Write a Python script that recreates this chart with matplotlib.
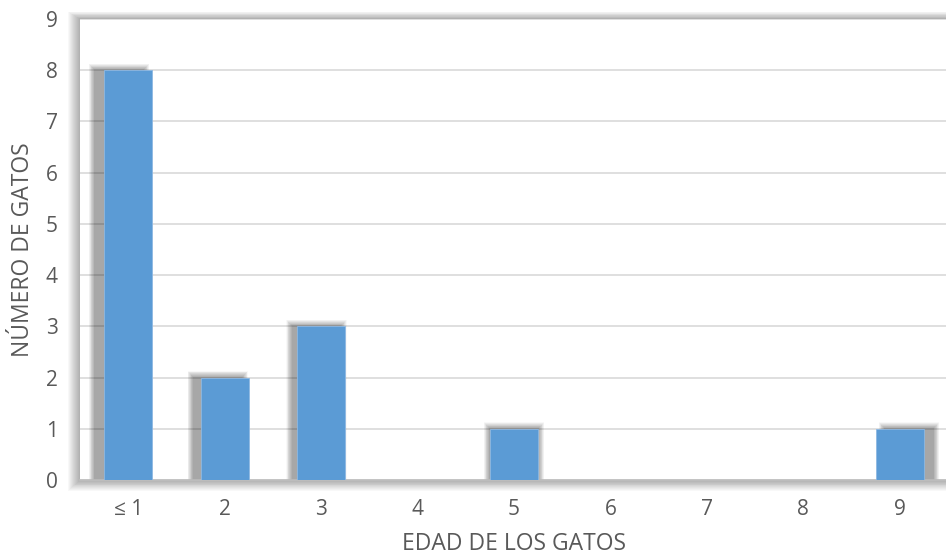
import matplotlib
matplotlib.use("Agg")
import matplotlib.pyplot as plt
from matplotlib.patches import Rectangle

plt.rcParams['font.family'] = ['Open Sans', 'DejaVu Sans']

categories = ["≤ 1", "2", "3", "4", "5", "6", "7", "8", "9"]
counts = [8, 2, 3, 0, 1, 0, 0, 0, 1]
y_ticks = list(range(0, 10))

TEXT = "#595959"
BAR = "#5B9BD5"
GRID = "#D9D9D9"

W, H, DPI = 946, 558, 100
fig = plt.figure(figsize=(W / DPI, H / DPI), dpi=DPI)

# plot area in pixels (from bottom-left)
px_l, px_r = 80, 948
px_b, px_t = H - 480, H - 19
ax = fig.add_axes([px_l / W, px_b / H, (px_r - px_l) / W, (px_t - px_b) / H])
ax.set_zorder(2)

# soft drop shadow around plot area
for k in range(12, 0, -1):
    fig.patches.append(Rectangle((px_l - k, px_b - k * 0.9), (px_r - px_l) + 2 * k, (px_t - px_b) + k * 1.5,
                                 transform=None, facecolor="black", edgecolor="none",
                                 alpha=0.028, zorder=0))

ax.set_facecolor("white")
x = list(range(len(categories)))
ax.set_xlim(-0.5, len(categories) - 0.5)
ax.set_ylim(0, 9)

# bar shadows (spread outwards from chart centre)
center = (len(categories) - 1) / 2
for xi, v in zip(x, counts):
    if v <= 0:
        continue
    dx = 0.024 * (xi - center)
    for k in range(14, 0, -1):
        e = k * 0.0045
        ax.add_patch(Rectangle((xi - 0.25 + dx - e, 0), 0.5 + 2 * e, v + k * 0.009,
                               facecolor="black", edgecolor="none", alpha=0.028, zorder=2))

ax.bar(x, counts, width=0.5, color=BAR, edgecolor="#8DB8E3", linewidth=0.6, zorder=3)

ax.set_yticks(y_ticks)
ax.yaxis.grid(True, color=GRID, linewidth=1.2, zorder=1)
ax.set_axisbelow(True)
ax.set_xticks(x)
ax.set_xticklabels(categories)
ax.tick_params(axis="both", length=0, labelsize=15, labelcolor=TEXT)
ax.tick_params(axis="x", pad=14)
ax.tick_params(axis="y", pad=16)
for s in ["top", "right", "left"]:
    ax.spines[s].set_visible(False)
ax.spines["bottom"].set_color("#BFBFBF")
ax.spines["bottom"].set_linewidth(1.2)

ax.set_xlabel("EDAD DE LOS GATOS", fontsize=16.5, color=TEXT, labelpad=8)
ax.set_ylabel("NÚMERO DE GATOS", fontsize=16.5, color=TEXT, labelpad=8)

fig.savefig("out.png", dpi=DPI)
